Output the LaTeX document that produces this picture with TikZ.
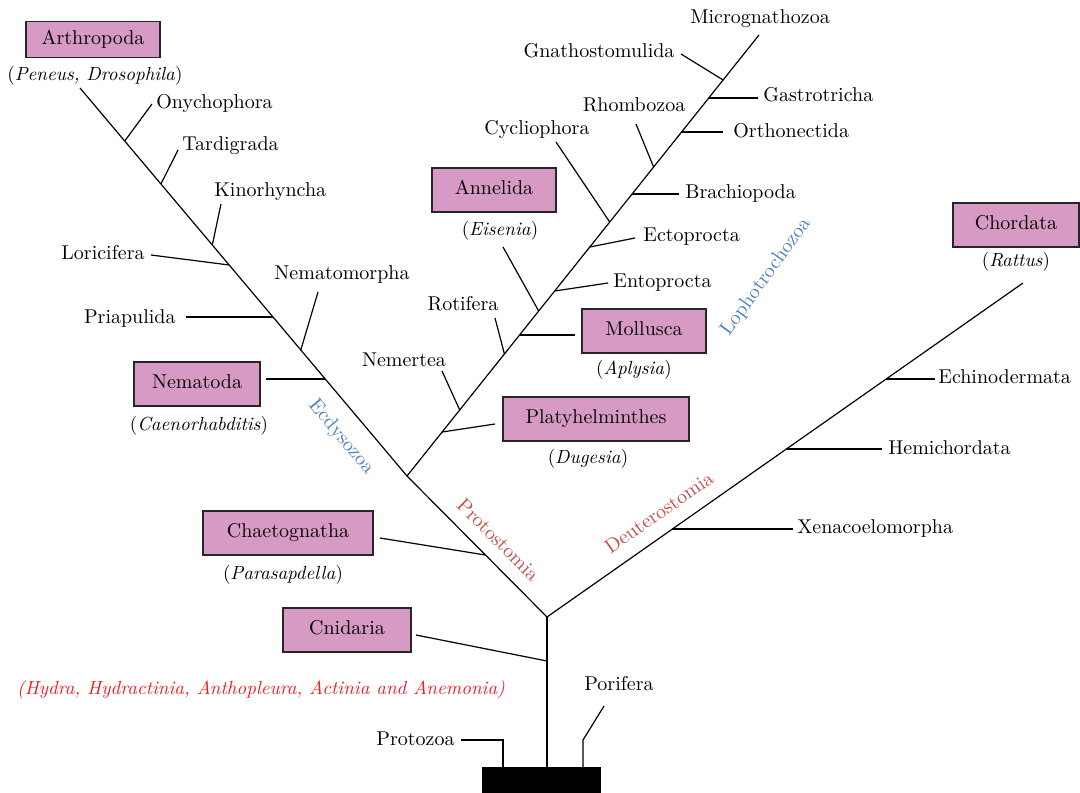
\documentclass[tikz,border=0pt]{standalone}
\usepackage{xcolor}
\definecolor{boxpink}{RGB}{214,154,196}
\definecolor{cladeblue}{RGB}{79,129,189}
\definecolor{cladered}{RGB}{192,80,77}
\definecolor{taxred}{RGB}{237,28,36}
\begin{document}
\begin{tikzpicture}[x=0.5pt,y=-0.5pt,
  txt/.style={inner sep=0pt, font=\fontsize{10}{12}\selectfont, text height=6.8pt, text depth=1.9pt},
  subtxt/.style={txt, font=\fontsize{9.5}{11}\selectfont},
  taxon/.style={txt, draw=black!85, fill=boxpink, line width=0.7pt, minimum height=22pt},
  lbl/.style={txt},
  clade/.style={txt},
  branch/.style={line width=0.6pt, line cap=butt}]
\useasboundingbox (0,0) rectangle (1080,792);

% ---------- main skeleton coordinates ----------
\coordinate (root) at (547,767);
\coordinate (split) at (547,617);
\coordinate (protsplit) at (407,476);
\coordinate (ecdtip) at (80,88);
\coordinate (lophtip) at (759,35);
\coordinate (deutip) at (1023,283);

% base block
\node[fill=black, inner sep=0pt, minimum width=59.5pt, minimum height=14pt, anchor=north west] (base) at (482,767) {};

% ---------- boxes ----------
\node[taxon, minimum width=67pt, minimum height=18pt] (arthropoda) at (93,39.5) {Arthropoda};
\node[taxon, minimum width=62pt] (annelida) at (494,190) {Annelida};
\node[taxon, minimum width=63pt] (chordata) at (1016,225) {Chordata};
\node[taxon, minimum width=62pt] (mollusca) at (644,331) {Mollusca};
\node[taxon, minimum width=93pt] (platy) at (596,419) {Platyhelminthes};
\node[taxon, minimum width=63pt] (nematoda) at (197,384) {Nematoda};
\node[taxon, minimum width=85pt] (chaeto) at (288,533) {Chaetognatha};
\node[taxon, minimum width=64pt] (cnidaria) at (347,630) {Cnidaria};

% ---------- subtitles ----------
\node[subtxt] (sarth) at (95,76) {(\textit{Peneus, Drosophila})};
\node[subtxt] (sann) at (500,231) {(\textit{Eisenia})};
\node[subtxt] (schor) at (1016,262) {(\textit{Rattus})};
\node[subtxt] (smoll) at (634,370) {(\textit{Aplysia})};
\node[subtxt] (splat) at (588,459) {(\textit{Dugesia})};
\node[subtxt] (snema) at (199,426) {(\textit{Caenorhabditis})};
\node[subtxt] (schae) at (283,575) {(\textit{Parasapdella})};
\node[subtxt, text=taxred] (scnid) at (261,690) {\textit{(Hydra, Hydractinia, Anthopleura, Actinia and Anemonia)}};

% ---------- plain labels ----------
\node[lbl, anchor=west] (onycho) at (156,104) {Onychophora};
\node[lbl, anchor=west] (tardi) at (182,146) {Tardigrada};
\node[lbl, anchor=west] (kino) at (214,192) {Kinorhyncha};
\node[lbl, anchor=east] (lori) at (145,255) {Loricifera};
\node[lbl, anchor=east] (priap) at (176,319) {Priapulida};
\node[lbl] (nemato) at (342,275) {Nematomorpha};
\node[lbl] (nemer) at (404,362) {Nemertea};
\node[lbl] (roti) at (463,306) {Rotifera};
\node[lbl] (cyclio) at (537,130) {Cycliophora};
\node[lbl] (rhombo) at (634,107) {Rhombozoa};
\node[lbl] (gnatho) at (599,53) {Gnathostomulida};
\node[lbl] (micro) at (760,19) {Micrognathozoa};
\node[lbl, anchor=west] (gastro) at (763,97) {Gastrotricha};
\node[lbl, anchor=west] (ortho) at (733,133) {Orthonectida};
\node[lbl, anchor=west] (brachio) at (685,194) {Brachiopoda};
\node[lbl, anchor=west] (ecto) at (643,237) {Ectoprocta};
\node[lbl, anchor=west] (ento) at (613,283) {Entoprocta};
\node[lbl, anchor=west] (echino) at (938,379) {Echinodermata};
\node[lbl, anchor=west] (hemi) at (888,450) {Hemichordata};
\node[lbl, anchor=west] (xeno) at (797,529) {Xenacoelomorpha};
\node[lbl, anchor=east] (protozoa) at (455,741) {Protozoa};
\node[lbl] (porifera) at (619,686) {Porifera};

% ---------- clade labels ----------
\node[clade, text=cladeblue, rotate=-50] (ecdy) at (341,437) {Ecdysozoa};
\node[clade, text=cladeblue, rotate=54] (lopho) at (766,277) {Lophotrochozoa};
\node[clade, text=cladered, rotate=-45] (proto) at (497,541) {Protostomia};
\node[clade, text=cladered, rotate=35] (deutero) at (660,514) {Deuterostomia};

% ---------- main lines ----------
\draw[branch] (root) -- (split);
\draw[branch] (split) -- (protsplit);
\draw[branch] (protsplit) -- (ecdtip);
\draw[branch] (protsplit) -- (lophtip);
\draw[branch] (split) -- (deutip);

% ---------- branch points and ends ----------
% Ecdysozoa
\coordinate (bOny) at (124.7,141);  \coordinate (eOny) at (152,104);
\coordinate (bTar) at (160.9,184);  \coordinate (eTar) at (178,150);
\coordinate (bKin) at (212.3,245);  \coordinate (eKin) at (221,204);
\coordinate (bLor) at (229.2,265);  \coordinate (eLor) at (151,255);
\coordinate (bPri) at (273,317);    \coordinate (ePri) at (186,317);
\coordinate (bNmm) at (300.8,350);  \coordinate (eNmm) at (318,292);
\coordinate (bNem) at (325.3,379);  \coordinate (eNem) at (266,379);
% Protostomia stem
\coordinate (bCha) at (485.4,555);  \coordinate (eCha) at (380,538);
% trunk
\coordinate (bCni) at (547,661);    \coordinate (eCni) at (416,635);
% Lophotrochozoa
\coordinate (bPla) at (442.1,432);  \coordinate (ePla) at (495,424);
\coordinate (bNmr) at (459.7,410);  \coordinate (eNmr) at (442,371);
\coordinate (bRot) at (504.4,354);  \coordinate (eRot) at (495,318);
\coordinate (bMol) at (519.5,335);  \coordinate (eMol) at (575,335);
\coordinate (bAnn) at (538.7,311);  \coordinate (eAnn) at (503,247);
\coordinate (bEnt) at (554.7,291);  \coordinate (eEnt) at (608,283);
\coordinate (bEct) at (589.8,247);  \coordinate (eEct) at (635,238);
\coordinate (bCyc) at (609.7,222);  \coordinate (eCyc) at (556,142);
\coordinate (bBra) at (632.1,194);  \coordinate (eBra) at (679,194);
\coordinate (bRho) at (653.6,167);  \coordinate (eRho) at (636,124);
\coordinate (bOrt) at (681.6,132);  \coordinate (eOrt) at (723,132);
\coordinate (bGas) at (708.7,98);   \coordinate (eGas) at (758,98);
\coordinate (bGna) at (723.1,80);   \coordinate (eGna) at (681,54);
% Deuterostomia
\coordinate (bXen) at (672.4,529);  \coordinate (eXen) at (793,529);
\coordinate (bHem) at (786.4,449);  \coordinate (eHem) at (882,449);
\coordinate (bEch) at (886.2,379);  \coordinate (eEch) at (935,379);
% base stubs
\coordinate (bPrz) at (503,767); \coordinate (kPrz) at (503,740); \coordinate (ePrz) at (461,740);
\coordinate (bPor) at (583,767); \coordinate (kPor) at (583,740); \coordinate (ePor) at (604,706);

\foreach \n in {Ony,Tar,Kin,Lor,Pri,Nmm,Nem,Cha,Cni,Pla,Nmr,Rot,Mol,Ann,Ent,Ect,Cyc,Bra,Rho,Ort,Gas,Gna,Xen,Hem,Ech}
  \draw[branch] (b\n) -- (e\n);
\draw[branch] (bPrz) -- (kPrz) -- (ePrz);
\draw[branch] (bPor) -- (kPor) -- (ePor);
\end{tikzpicture}
\end{document}
